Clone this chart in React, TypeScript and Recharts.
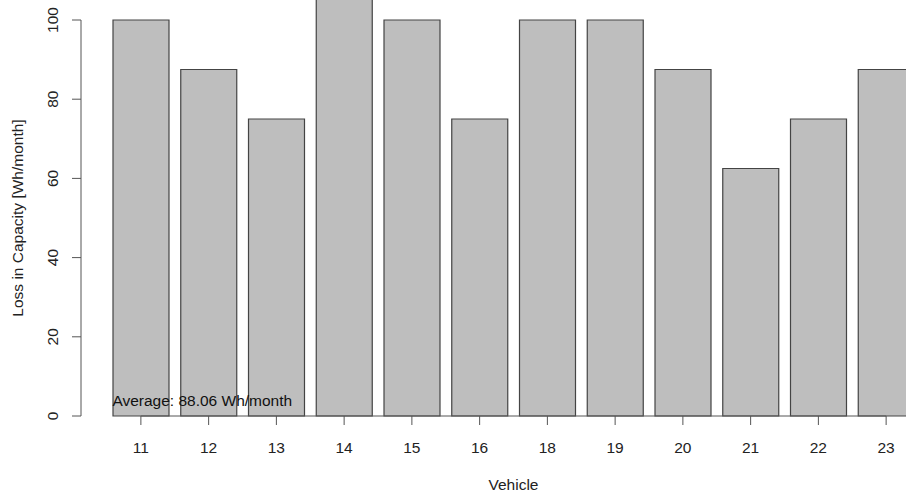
import React from 'react';
import { BarChart, Bar, XAxis, YAxis, ReferenceLine, ReferenceDot } from 'recharts';

const vehicles = ['11', '12', '13', '14', '15', '16', '18', '19', '20', '21', '22', '23'];
const lossValues = [100, 87.5, 75, 106.7, 100, 75, 100, 100, 87.5, 62.5, 75, 87.5];
const yTicks = [0, 20, 40, 60, 80, 100];
const averageText = 'Average: 88.06 Wh/month';

const data = vehicles.map((v, i) => ({ vehicle: v, loss: lossValues[i] }));

const FONT = '"Liberation Sans", Arial, sans-serif';
const TEXT = '#222';
const AXIS = '#555';

const XTick = (props: any) => {
  const { x, y, payload } = props;
  return (
    <text x={x} y={y + 22.5} textAnchor="middle" dominantBaseline="central"
      fontFamily={FONT} fontSize={15.5} fill={TEXT}>
      {payload.value}
    </text>
  );
};

const YTick = (props: any) => {
  const { x, y, payload } = props;
  const cx = x - 19.5;
  return (
    <text x={cx} y={y} transform={`rotate(-90, ${cx}, ${y})`} textAnchor="middle"
      dominantBaseline="central" fontFamily={FONT} fontSize={15.5} fill={TEXT}>
      {payload.value}
    </text>
  );
};

const YTitle = (props: any) => {
  const { viewBox } = props;
  const cx = viewBox.x + 17;
  const cy = viewBox.y + viewBox.height / 2;
  return (
    <text x={cx} y={cy} transform={`rotate(-90, ${cx}, ${cy})`} textAnchor="middle"
      dominantBaseline="central" fontFamily={FONT} fontSize={15.5} fill={TEXT}>
      Loss in Capacity [Wh/month]
    </text>
  );
};

const XTitle = (props: any) => {
  const { viewBox } = props;
  return (
    <text x={viewBox.x + viewBox.width / 2} y={viewBox.y + 68} textAnchor="middle"
      dominantBaseline="central" fontFamily={FONT} fontSize={15.5} fill={TEXT}>
      Vehicle
    </text>
  );
};

const AverageLabel = (props: any) => {
  const { viewBox } = props;
  return (
    <text x={viewBox.x - 28.5} y={viewBox.y} textAnchor="start" dominantBaseline="central"
      fontFamily={FONT} fontSize={15.5} fill="#111">
      {averageText}
    </text>
  );
};

export default function App() {
  return (
    <div style={{ position: 'fixed', left: 0, top: 0, width: 906, height: 496, overflow: 'hidden', background: '#fff' }}>
      <style>{'.recharts-bar, .recharts-bar-rectangles { clip-path: none !important; }'}</style>
      <BarChart width={946} height={496} data={data} margin={{ top: 20, right: 0, bottom: 0, left: 0 }}>
        <XAxis
          dataKey="vehicle"
          height={80}
          padding={{ left: 26, right: 26 }}
          axisLine={false}
          tickSize={9}
          tickMargin={0}
          tickLine={{ stroke: AXIS }}
          tick={<XTick />}
          interval={0}
          label={<XTitle />}
        />
        <YAxis
          width={81}
          domain={[0, 100]}
          allowDataOverflow
          ticks={yTicks}
          tickSize={9}
          tickMargin={0}
          axisLine={{ stroke: AXIS }}
          tickLine={{ stroke: AXIS }}
          tick={<YTick />}
          label={<YTitle />}
        />
        <Bar
          dataKey="loss"
          fill="#bebebe"
          stroke="#444"
          strokeWidth={1.2}
          barSize={56}
          isAnimationActive={false}
        />
        <ReferenceLine
          segment={[{ x: vehicles[0], y: 0 }, { x: vehicles[vehicles.length - 1], y: 0 }]}
          stroke={AXIS}
          ifOverflow="visible"
        />
        <ReferenceDot x={vehicles[0]} y={4} r={0} stroke="none" fill="none" label={<AverageLabel />} />
      </BarChart>
    </div>
  );
}
